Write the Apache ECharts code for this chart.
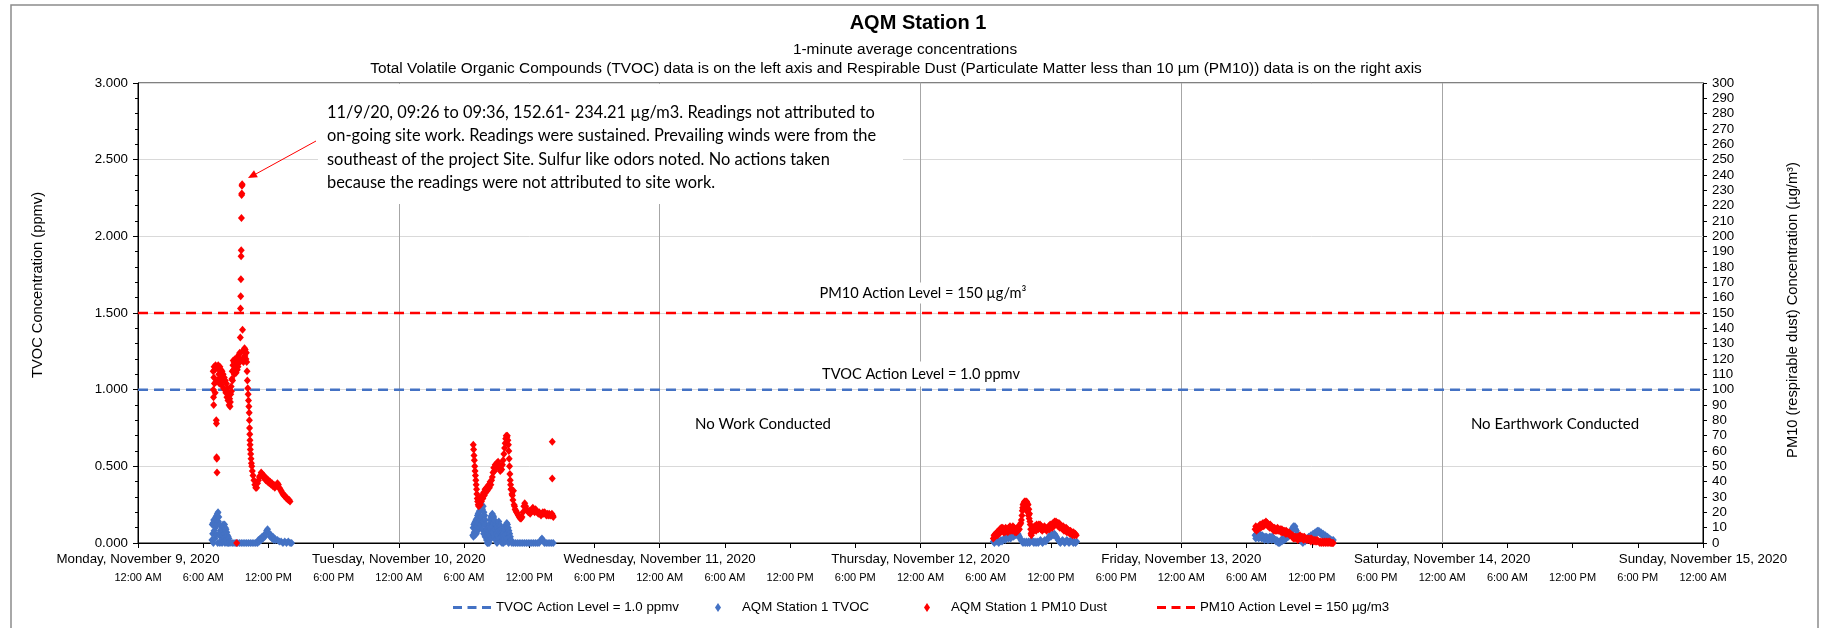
<!DOCTYPE html>
<html>
<head>
<meta charset="utf-8">
<script src="https://cdn.jsdelivr.net/npm/echarts@6.0.0/dist/echarts.min.js"></script>
<style>
  html, body { margin: 0; padding: 0; background: #fff; }
  #main { width: 1826px; height: 628px; }
</style>
</head>
<body>
<div id="main"></div>
<script>
// x axis tick labels
const dayLabels = ['Monday, November 9, 2020', 'Tuesday, November 10, 2020', 'Wednesday, November 11, 2020',
  'Thursday, November 12, 2020', 'Friday, November 13, 2020', 'Saturday, November 14, 2020', 'Sunday, November 15, 2020'];
const timeLabels = ['12:00 AM', '6:00 AM', '12:00 PM', '6:00 PM'];

const tvocActionLevel = 1.0;   // ppmv, left axis
const pm10ActionLevel = 150;   // ug/m3, right axis

// 1-minute readings, [time of day, value]. TVOC in ppmv, PM10 in ug/m3
const tvocNov9 = [
  ['06:48',0.02],['06:50',0.12],['06:52',0.06],['06:54',0.13],['06:56',0.00],['06:58',0.15],['07:00',0.08],['07:02',0.14],
  ['07:04',0.03],['07:06',0.16],['07:08',0.10],['07:10',0.17],['07:12',0.05],['07:14',0.18],['07:16',0.12],['07:18',0.19],
  ['07:20',0.00],['07:22',0.20],['07:24',0.14],['07:26',0.17],['07:28',0.06],['07:30',0.12],['07:32',0.00],['07:34',0.08],
  ['07:36',0.04],['07:38',0.07],['07:40',0.02],['07:42',0.09],['07:44',0.00],['07:46',0.11],['07:48',0.05],['07:50',0.12],
  ['07:52',0.01],['07:54',0.11],['07:56',0.06],['07:58',0.12],['08:00',0.00],['08:02',0.10],['08:04',0.04],['08:06',0.09],
  ['08:08',0.02],['08:10',0.07],['08:12',0.00],['08:14',0.05],['08:16',0.03],['08:18',0.04],['08:20',0.00],['08:22',0.03],
  ['08:25',0.01],['08:28',0.00],['08:40',0.00],['08:50',0.00],['09:00',0.00],['09:10',0.00],['09:20',0.00],['09:30',0.00],
  ['09:40',0.00],['09:50',0.00],['10:00',0.00],['10:10',0.00],['10:20',0.00],['10:30',0.00],['10:40',0.00],['10:50',0.00],
  ['11:00',0.00],['11:05',0.02],['11:10',0.01],['11:15',0.03],['11:20',0.02],['11:25',0.04],['11:30',0.03],['11:35',0.05],
  ['11:40',0.04],['11:45',0.06],['11:50',0.08],['11:55',0.09],['12:00',0.07],['12:05',0.06],['12:10',0.04],['12:15',0.05],
  ['12:20',0.03],['12:25',0.04],['12:30',0.02],['12:35',0.03],['12:40',0.02],['12:50',0.02],['13:00',0.01],['13:10',0.01],
  ['13:20',0.00],['13:30',0.01],['13:40',0.00],['13:50',0.01],['14:00',0.00],['14:08',0.00]
];
const pm10Nov9 = [
  ['06:55',112],['06:56',100],['06:57',95],['06:58',90],['06:59',108],['07:00',115],['07:02',104],['07:04',113],['07:06',98],
  ['07:08',116],['07:10',105],['07:12',80],['07:13',78],['07:14',56],['07:15',55],['07:16',46],['07:18',114],['07:20',106],
  ['07:23',116],['07:26',110],['07:29',104],['07:32',115],['07:35',108],['07:38',113],['07:41',103],['07:44',112],['07:47',106],
  ['07:50',110],['07:53',101],['07:56',108],['07:59',100],['08:02',106],['08:05',98],['08:08',104],['08:11',95],['08:14',101],
  ['08:17',93],['08:20',98],['08:23',90],['08:26',94],['08:28',89],['08:30',92],['08:32',97],['08:34',102],['08:36',99],
  ['08:38',107],['08:40',112],['08:42',106],['08:44',116],['08:46',119],['08:48',113],['08:50',118],['08:52',110],['08:54',116],
  ['08:56',120],['08:58',114],['09:00',118],['09:02',111],['09:04',116],['09:05',0],['09:06',120],['09:08',113],['09:10',121],
  ['09:12',115],['09:14',122],['09:16',117],['09:18',123],['09:20',118],['09:22',124],['09:24',119],['09:25',134],['09:26',153],
  ['09:27',161],['09:28',172],['09:29',187],['09:30',191],['09:31',212],['09:32',227],['09:33',228],['09:34',233],['09:35',234],
  ['09:37',139],['09:38',120],['09:40',125],['09:42',118],['09:44',126],['09:46',121],['09:48',127],['09:50',122],['09:52',126],
  ['09:54',124],['09:56',120],['09:58',124],['10:00',118],['10:02',112],['10:04',106],['10:06',101],['10:08',97],['10:10',93],
  ['10:12',89],['10:14',85],['10:15',80],['10:16',75],['10:17',71],['10:18',67],['10:19',64],['10:20',61],['10:22',58],
  ['10:24',55],['10:26',52],['10:28',50],['10:31',47],['10:35',44],['10:40',41],['10:45',38],['10:50',36],['10:55',36],
  ['11:00',39],['11:05',41],['11:10',43],['11:15',44],['11:20',46],['11:25',45],['11:30',43],['11:35',44],['11:40',42],
  ['11:45',41],['11:50',42],['11:55',40],['12:00',41],['12:05',39],['12:10',40],['12:15',38],['12:20',39],['12:25',37],
  ['12:30',38],['12:35',36],['12:40',37],['12:45',38],['12:50',39],['12:55',38],['13:00',36],['13:05',35],['13:10',34],
  ['13:15',33],['13:20',32],['13:25',31],['13:30',31],['13:35',30],['13:40',29],['13:45',29],['13:50',28],['13:55',28],['13:59',27]
];
const tvocNov10 = [
  ['06:48',0.05],['06:50',0.10],['06:52',0.04],['06:54',0.12],['06:56',0.07],['06:58',0.13],['07:00',0.05],['07:02',0.14],
  ['07:04',0.09],['07:06',0.15],['07:08',0.06],['07:10',0.16],['07:12',0.11],['07:14',0.18],['07:16',0.08],['07:18',0.19],
  ['07:20',0.13],['07:22',0.20],['07:24',0.10],['07:26',0.21],['07:28',0.15],['07:30',0.23],['07:32',0.12],['07:34',0.24],
  ['07:36',0.17],['07:38',0.25],['07:40',0.09],['07:42',0.22],['07:44',0.14],['07:46',0.24],['07:48',0.06],['07:50',0.20],
  ['07:52',0.12],['07:54',0.18],['07:56',0.04],['07:58',0.15],['08:00',0.08],['08:02',0.12],['08:04',0.02],['08:06',0.09],
  ['08:08',0.00],['08:10',0.05],['08:12',0.00],['08:14',0.03],['08:16',0.08],['08:18',0.00],['08:20',0.12],['08:22',0.05],
  ['08:24',0.15],['08:26',0.09],['08:28',0.17],['08:30',0.03],['08:32',0.18],['08:34',0.11],['08:36',0.19],['08:38',0.07],
  ['08:40',0.18],['08:42',0.13],['08:44',0.17],['08:46',0.04],['08:48',0.15],['08:50',0.09],['08:52',0.14],['08:54',0.02],
  ['08:56',0.12],['08:58',0.06],['09:00',0.10],['09:02',0.00],['09:04',0.11],['09:06',0.05],['09:08',0.13],['09:10',0.08],
  ['09:12',0.14],['09:14',0.03],['09:16',0.12],['09:18',0.07],['09:20',0.11],['09:22',0.01],['09:24',0.09],['09:26',0.04],
  ['09:28',0.07],['09:30',0.00],['09:32',0.05],['09:34',0.02],['09:36',0.06],['09:38',0.00],['09:40',0.07],['09:42',0.03],
  ['09:44',0.09],['09:46',0.05],['09:48',0.11],['09:50',0.01],['09:52',0.12],['09:54',0.06],['09:56',0.13],['09:58',0.03],
  ['10:00',0.12],['10:02',0.07],['10:04',0.10],['10:06',0.00],['10:08',0.08],['10:10',0.04],['10:12',0.06],['10:14',0.01],
  ['10:16',0.04],['10:18',0.02],['10:20',0.02],['10:24',0.00],['10:34',0.00],['10:44',0.00],['10:54',0.00],['11:04',0.00],
  ['11:14',0.00],['11:24',0.00],['11:34',0.00],['11:44',0.00],['11:54',0.00],['12:04',0.00],['12:14',0.00],['12:24',0.00],
  ['12:34',0.00],['12:44',0.00],['12:54',0.00],['13:05',0.02],['13:10',0.03],['13:15',0.02],['13:24',0.00],['13:34',0.00],
  ['13:44',0.00],['13:54',0.00],['14:04',0.00],['14:13',0.00]
];
const pm10Nov10 = [
  ['06:51',64],['06:53',61],['06:55',57],['06:57',54],['06:59',50],['07:01',47],['07:03',44],['07:05',41],['07:07',38],
  ['07:09',35],['07:11',32],['07:13',29],['07:15',27],['07:18',25],['07:21',24],['07:24',26],['07:27',28],['07:30',25],
  ['07:33',30],['07:36',27],['07:40',31],['07:44',29],['07:48',33],['07:52',31],['07:56',35],['08:00',33],['08:04',36],
  ['08:08',34],['08:12',37],['08:16',38],['08:20',36],['08:24',40],['08:28',38],['08:32',41],['08:36',43],['08:40',46],
  ['08:44',49],['08:48',47],['08:52',51],['08:56',49],['09:00',52],['09:04',50],['09:08',53],['09:12',51],['09:16',49],
  ['09:20',47],['09:24',50],['09:28',48],['09:32',51],['09:36',54],['09:40',58],['09:44',62],['09:47',65],['09:50',68],
  ['09:53',70],['09:56',69],['09:59',70],['10:02',67],['10:05',64],['10:07',60],['10:09',55],['10:11',50],['10:13',45],
  ['10:15',41],['10:17',38],['10:19',35],['10:21',35],['10:24',32],['10:27',31],['10:30',28],['10:33',34],['10:36',25],
  ['10:39',24],['10:42',22],['10:46',21],['10:50',20],['10:55',19],['11:00',18],['11:05',17],['11:10',16],['11:15',16],
  ['11:20',17],['11:25',20],['11:30',24],['11:35',26],['11:40',24],['11:45',22],['11:50',21],['11:55',20],['12:00',21],
  ['12:05',19],['12:10',20],['12:15',22],['12:20',23],['12:25',21],['12:30',20],['12:35',22],['12:40',21],['12:45',20],
  ['12:50',19],['12:55',20],['13:00',19],['13:05',18],['13:10',19],['13:15',20],['13:20',19],['13:25',20],['13:30',19],
  ['13:35',18],['13:40',19],['13:45',18],['13:50',19],['13:55',18],['14:00',18],['14:05',19],['14:07',66],['14:07',42],
  ['14:10',18],['14:13',17]
];
const tvocNov12 = [
  ['06:42',0.01],['06:48',0.00],['06:54',0.02],['07:00',0.01],['07:06',0.02],['07:12',0.00],['07:18',0.01],['07:24',0.02],
  ['07:30',0.01],['07:36',0.02],['07:42',0.03],['07:48',0.02],['07:54',0.03],['08:00',0.04],['08:06',0.03],['08:12',0.04],
  ['08:18',0.03],['08:24',0.04],['08:30',0.05],['08:34',0.04],['08:38',0.05],['08:42',0.06],['08:46',0.05],['08:50',0.06],
  ['08:54',0.05],['08:58',0.06],['09:02',0.05],['09:06',0.04],['09:10',0.03],['09:15',0.02],['09:20',0.01],['09:26',0.00],
  ['09:32',0.01],['09:38',0.00],['09:44',0.01],['09:50',0.00],['09:56',0.01],['10:02',0.00],['10:08',0.01],['10:14',0.02],
  ['10:20',0.01],['10:26',0.00],['10:32',0.01],['10:38',0.00],['10:44',0.01],['10:50',0.00],['10:56',0.01],['11:02',0.02],
  ['11:08',0.01],['11:14',0.00],['11:20',0.01],['11:26',0.02],['11:32',0.01],['11:38',0.02],['11:44',0.03],['11:50',0.04],
  ['11:55',0.05],['12:00',0.04],['12:05',0.05],['12:10',0.06],['12:15',0.05],['12:20',0.06],['12:25',0.05],['12:30',0.04],
  ['12:35',0.03],['12:40',0.02],['12:46',0.01],['12:52',0.00],['12:58',0.01],['13:04',0.02],['13:10',0.01],['13:16',0.00],
  ['13:22',0.01],['13:28',0.02],['13:34',0.01],['13:40',0.00],['13:46',0.01],['13:52',0.02],['13:58',0.01],['14:04',0.00],
  ['14:10',0.01],['14:16',0.00],['14:22',0.01]
];
const pm10Nov12 = [
  ['06:42',3],['06:46',5],['06:50',4],['06:54',6],['06:58',5],['07:02',7],['07:06',5],['07:10',8],['07:14',6],['07:18',9],
  ['07:22',7],['07:26',10],['07:30',8],['07:34',10],['07:38',7],['07:42',9],['07:46',7],['07:50',10],['07:54',8],['07:58',9],
  ['08:02',7],['08:06',10],['08:10',8],['08:14',11],['08:18',8],['08:22',10],['08:26',8],['08:30',11],['08:34',9],['08:38',10],
  ['08:42',7],['08:46',9],['08:50',7],['08:54',10],['08:58',8],['09:02',11],['09:06',9],['09:10',12],['09:14',13],['09:17',15],
  ['09:20',18],['09:22',21],['09:24',23],['09:26',25],['09:28',22],['09:30',26],['09:32',24],['09:34',27],['09:36',25],
  ['09:38',27],['09:40',23],['09:42',26],['09:44',24],['09:46',27],['09:48',22],['09:50',26],['09:52',20],['09:54',25],
  ['09:56',18],['09:58',22],['10:00',16],['10:02',19],['10:04',14],['10:06',12],['10:08',9],['10:10',6],['10:12',5],
  ['10:14',7],['10:17',9],['10:20',8],['10:23',10],['10:26',8],['10:29',11],['10:32',9],['10:35',11],['10:38',8],['10:41',12],
  ['10:44',10],['10:47',11],['10:50',9],['10:53',12],['10:56',10],['11:00',12],['11:04',9],['11:08',11],['11:12',8],
  ['11:16',10],['11:20',9],['11:24',11],['11:28',9],['11:32',10],['11:36',8],['11:40',10],['11:44',9],['11:48',11],['11:52',9],
  ['11:56',12],['12:00',10],['12:04',12],['12:08',10],['12:12',13],['12:16',11],['12:20',14],['12:24',12],['12:28',14],
  ['12:32',12],['12:36',13],['12:40',11],['12:44',13],['12:48',10],['12:52',12],['12:56',10],['13:00',11],['13:04',9],
  ['13:08',11],['13:12',8],['13:16',10],['13:20',8],['13:24',10],['13:28',7],['13:32',9],['13:36',7],['13:40',8],['13:44',6],
  ['13:48',8],['13:52',6],['13:56',7],['14:00',5],['14:05',7],['14:10',5],['14:15',6],['14:20',5]
];
const tvocNov13 = [
  ['06:47',0.05],['06:51',0.03],['06:55',0.06],['06:59',0.04],['07:03',0.05],['07:07',0.03],['07:11',0.06],['07:15',0.04],
  ['07:19',0.05],['07:23',0.03],['07:27',0.05],['07:31',0.04],['07:35',0.04],['07:39',0.02],['07:43',0.04],['07:47',0.03],
  ['07:51',0.04],['07:55',0.02],['07:59',0.03],['08:03',0.02],['08:07',0.04],['08:11',0.03],['08:15',0.04],['08:19',0.02],
  ['08:23',0.04],['08:27',0.03],['08:31',0.03],['08:35',0.02],['08:39',0.02],['08:43',0.01],['08:47',0.02],['08:51',0.01],
  ['08:55',0.00],['08:59',0.01],['09:03',0.00],['09:07',0.01],['09:11',0.02],['09:15',0.01],['09:19',0.03],['09:23',0.02],
  ['09:27',0.03],['09:31',0.02],['09:35',0.04],['09:39',0.03],['09:43',0.04],['09:47',0.05],['09:51',0.04],['09:55',0.06],
  ['09:59',0.05],['10:03',0.07],['10:07',0.08],['10:11',0.09],['10:15',0.10],['10:19',0.11],['10:23',0.10],['10:27',0.11],
  ['10:31',0.09],['10:35',0.08],['10:39',0.06],['10:43',0.05],['10:47',0.03],['10:51',0.04],['10:55',0.02],['10:59',0.03],
  ['11:03',0.01],['11:07',0.02],['11:11',0.00],['11:15',0.01],['11:19',0.02],['11:23',0.01],['11:27',0.02],['11:31',0.03],
  ['11:35',0.02],['11:39',0.03],['11:43',0.04],['11:47',0.03],['11:51',0.04],['11:55',0.05],['11:59',0.04],['12:03',0.05],
  ['12:07',0.06],['12:11',0.05],['12:15',0.06],['12:19',0.07],['12:23',0.06],['12:27',0.07],['12:31',0.08],['12:35',0.07],
  ['12:39',0.08],['12:43',0.07],['12:47',0.06],['12:51',0.07],['12:55',0.06],['12:59',0.05],['13:03',0.06],['13:07',0.05],
  ['13:11',0.04],['13:15',0.05],['13:19',0.04],['13:23',0.03],['13:27',0.04],['13:31',0.03],['13:35',0.02],['13:39',0.03],
  ['13:43',0.02],['13:47',0.01],['13:51',0.02],['13:55',0.01],['13:59',0.02]
];
const pm10Nov13 = [
  ['06:47',9],['06:51',11],['06:55',8],['06:59',10],['07:03',9],['07:07',11],['07:11',10],['07:15',12],['07:19',10],['07:23',12],
  ['07:27',11],['07:31',13],['07:35',11],['07:39',13],['07:43',12],['07:47',14],['07:51',12],['07:55',13],['07:59',11],['08:03',12],
  ['08:07',10],['08:11',12],['08:15',10],['08:19',11],['08:23',9],['08:27',10],['08:31',8],['08:35',10],['08:39',8],['08:43',9],
  ['08:47',8],['08:51',10],['08:55',8],['08:59',9],['09:03',8],['09:07',9],['09:11',7],['09:15',9],['09:19',7],['09:23',8],
  ['09:27',7],['09:31',8],['09:35',6],['09:39',8],['09:43',6],['09:47',7],['09:51',6],['09:55',7],['09:59',5],['10:03',6],
  ['10:07',5],['10:11',4],['10:15',5],['10:19',3],['10:23',4],['10:27',3],['10:31',4],['10:35',3],['10:39',4],['10:43',2],
  ['10:47',4],['10:51',3],['10:55',5],['10:59',3],['11:03',4],['11:07',3],['11:11',4],['11:15',2],['11:19',4],['11:23',3],
  ['11:27',3],['11:31',2],['11:35',3],['11:39',2],['11:43',3],['11:47',2],['11:51',3],['11:55',1],['11:59',3],['12:03',2],
  ['12:07',2],['12:11',1],['12:15',2],['12:19',1],['12:23',2],['12:27',1],['12:31',2],['12:35',1],['12:40',1],['12:45',0],
  ['12:50',1],['12:55',0],['13:00',1],['13:05',0],['13:10',1],['13:15',0],['13:20',1],['13:25',0],['13:30',1],['13:35',0],
  ['13:40',1],['13:45',0],['13:50',0],['13:55',0],['13:59',0]
];

const HOUR = 3600 * 1000;
const T0 = Date.UTC(2020, 10, 9);
const T1 = Date.UTC(2020, 10, 15);

function toPoints(day, rows) {
  return rows.map(function (r) {
    return [Date.UTC(2020, 10, day, +r[0].slice(0, 2), +r[0].slice(3, 5)), r[1]];
  });
}

const tvocData = [].concat(toPoints(9, tvocNov9), toPoints(10, tvocNov10), toPoints(12, tvocNov12), toPoints(13, tvocNov13));
const pm10Data = [].concat(toPoints(9, pm10Nov9), toPoints(10, pm10Nov10), toPoints(12, pm10Nov12), toPoints(13, pm10Nov13));

const ARIAL = '"Liberation Sans", Arial, sans-serif';
const CALIBRI = 'Lato, Carlito, sans-serif';
const BLUE = '#4472C4';
const RED = '#FF0000';

// legend icons: three short dashes, and an upright diamond
const DASH_ICON = 'path://M0,0h9v3h-9z M14.5,0h9v3h-9z M29,0h9v3h-9z';
const DIAMOND_ICON = 'path://M3,0L6,4.5L3,9L0,4.5Z';

const noteText = [
  '11/9/20, 09:26 to 09:36, 152.61- 234.21 µg/m3. Readings not attributed to',
  'on-going site work. Readings were sustained. Prevailing winds were from the',
  'southeast of the project Site. Sulfur like odors noted. No actions taken',
  'because the readings were not attributed to site work.'
].join('\n');

var chart = echarts.init(document.getElementById('main'));

var legendText = { fontFamily: ARIAL, fontSize: 13.3, color: '#000' };
function legendAt(name, icon, left) {
  return {
    data: [{ name: name, icon: icon }], left: left, top: 596,
    itemWidth: 38, itemHeight: 9, symbolKeepAspect: true, textStyle: legendText
  };
}
var subStyle = { fontFamily: ARIAL, fontSize: 15.4, fontWeight: 'normal', color: '#000' };

var option = {
  animation: false,
  backgroundColor: '#fff',
  title: [
    {
      text: 'AQM Station 1',
      left: 913, textAlign: 'center', top: 8,
      textStyle: { fontFamily: ARIAL, fontSize: 20, fontWeight: 'bold', color: '#000' }
    },
    { text: '1-minute average concentrations', left: 900, textAlign: 'center', top: 37.5, textStyle: subStyle },
    {
      text: 'Total Volatile Organic Compounds (TVOC) data is on the left axis and Respirable Dust (Particulate Matter less than 10 µm (PM10)) data is on the right axis',
      left: 891, textAlign: 'center', top: 56, textStyle: subStyle
    }
  ],
  legend: [
    legendAt('TVOC Action Level = 1.0 ppmv', DASH_ICON, 448),
    legendAt('AQM Station 1 TVOC', DIAMOND_ICON, 710),
    legendAt('AQM Station 1 PM10 Dust', DIAMOND_ICON, 919),
    legendAt('PM10 Action Level = 150 µg/m3', DASH_ICON, 1152)
  ],
  grid: {
    left: 138, top: 83, width: 1565, height: 460,
    show: true, borderColor: '#000', borderWidth: 1, backgroundColor: 'transparent'
  },
  xAxis: [
    {
      type: 'value', min: T0, max: T1, interval: 6 * HOUR,
      axisLine: { lineStyle: { color: '#000', width: 1 } },
      axisTick: { show: true, length: 5, lineStyle: { color: '#000' } },
      splitLine: { show: false },
      axisLabel: {
        margin: 29, fontFamily: ARIAL, fontSize: 11, color: '#000',
        showMinLabel: true, showMaxLabel: true,
        formatter: function (v) { return timeLabels[Math.round(((v - T0) / HOUR) % 24) / 6]; }
      }
    },
    {
      type: 'value', position: 'bottom', min: T0, max: T1, interval: 24 * HOUR,
      axisLine: { show: false },
      axisTick: { show: false },
      splitLine: { show: true, lineStyle: { color: '#a6a6a6', width: 1 } },
      axisLabel: {
        margin: 10, fontFamily: ARIAL, fontSize: 13.3, color: '#000',
        showMinLabel: true, showMaxLabel: true,
        formatter: function (v) { return dayLabels[Math.round((v - T0) / (24 * HOUR))]; }
      }
    }
  ],
  yAxis: [
    {
      type: 'value', position: 'left', min: 0, max: 3, interval: 0.5,
      axisLine: { show: true, lineStyle: { color: '#000' } },
      axisTick: { show: true, length: 5, lineStyle: { color: '#000' } },
      minorTick: { show: true, splitNumber: 5, length: 3, lineStyle: { color: '#000' } },
      splitLine: { show: true, lineStyle: { color: '#d9d9d9', width: 1 } },
      axisLabel: {
        margin: 10, fontFamily: ARIAL, fontSize: 13.3, color: '#000',
        formatter: function (v) { return v.toFixed(3); }
      }
    },
    {
      type: 'value', position: 'right', min: 0, max: 300, interval: 10,
      axisLine: { show: true, lineStyle: { color: '#000' } },
      axisTick: { show: true, length: 4, lineStyle: { color: '#000' } },
      splitLine: { show: false },
      axisLabel: { margin: 9, fontFamily: ARIAL, fontSize: 13.3, color: '#000' }
    }
  ],
  series: [
    {
      name: 'TVOC Action Level = 1.0 ppmv', type: 'line', xAxisIndex: 0, yAxisIndex: 0,
      symbol: 'none', silent: true, z: 3,
      lineStyle: { color: BLUE, width: 2.5, type: [10, 6] }, itemStyle: { color: BLUE },
      data: [[T0, tvocActionLevel], [T1, tvocActionLevel]]
    },
    {
      name: 'AQM Station 1 TVOC', type: 'scatter', xAxisIndex: 0, yAxisIndex: 0,
      symbol: 'diamond', symbolSize: [7, 8], z: 4,
      itemStyle: { color: BLUE, opacity: 1 },
      data: tvocData
    },
    {
      name: 'AQM Station 1 PM10 Dust', type: 'scatter', xAxisIndex: 0, yAxisIndex: 1,
      symbol: 'diamond', symbolSize: [7, 8], z: 5,
      itemStyle: { color: RED, opacity: 1 },
      data: pm10Data
    },
    {
      name: 'PM10 Action Level = 150 µg/m3', type: 'line', xAxisIndex: 0, yAxisIndex: 1,
      symbol: 'none', silent: true, z: 3,
      lineStyle: { color: RED, width: 2.5, type: [10, 6] }, itemStyle: { color: RED },
      data: [[T0, pm10ActionLevel], [T1, pm10ActionLevel]]
    }
  ],
  graphic: [
    // outer chart border
    { type: 'rect', z: 0, shape: { x: 11, y: 5, width: 1807, height: 700 },
      style: { fill: 'none', stroke: '#8c8c8c', lineWidth: 1.5 } },
    // annotation box
    { type: 'rect', z: 6, shape: { x: 318, y: 84, width: 585, height: 120 }, style: { fill: '#fff' } },
    { type: 'text', z: 7, x: 327, y: 101,
      style: { text: noteText, font: '16.4px ' + CALIBRI, fill: '#000', lineHeight: 23.3 } },
    { type: 'line', z: 7, shape: { x1: 316, y1: 141, x2: 254, y2: 175 }, style: { stroke: RED, lineWidth: 1 } },
    { type: 'polygon', z: 7, shape: { points: [[248, 178], [257.8, 177.2], [254, 170.2]] }, style: { fill: RED } },
    // labels inside the plot
    { type: 'text', z: 7, x: 923, y: 293,
      style: { text: 'PM10 Action Level = 150 µg/m³', font: '14.6px ' + CALIBRI, fill: '#000',
        align: 'center', verticalAlign: 'middle', textAlign: 'center', textVerticalAlign: 'middle',
        backgroundColor: '#fff', padding: [3, 4] } },
    { type: 'text', z: 7, x: 921, y: 374,
      style: { text: 'TVOC Action Level = 1.0 ppmv', font: '14.6px ' + CALIBRI, fill: '#000',
        align: 'center', verticalAlign: 'middle', textAlign: 'center', textVerticalAlign: 'middle',
        backgroundColor: '#fff', padding: [5, 4] } },
    { type: 'text', z: 7, x: 763, y: 424,
      style: { text: 'No Work Conducted', font: '15px ' + CALIBRI, fill: '#000',
        align: 'center', verticalAlign: 'middle', textAlign: 'center', textVerticalAlign: 'middle' } },
    { type: 'text', z: 7, x: 1555, y: 424,
      style: { text: 'No Earthwork Conducted', font: '15px ' + CALIBRI, fill: '#000',
        align: 'center', verticalAlign: 'middle', textAlign: 'center', textVerticalAlign: 'middle' } },
    // axis titles
    { type: 'text', z: 7, x: 38, y: 285, rotation: Math.PI / 2,
      style: { text: 'TVOC Concentration (ppmv)', font: '14.7px ' + ARIAL, fill: '#000',
        align: 'center', verticalAlign: 'middle', textAlign: 'center', textVerticalAlign: 'middle' } },
    { type: 'text', z: 7, x: 1793, y: 310, rotation: Math.PI / 2,
      style: { text: 'PM10 (respirable dust) Concentration (µg/m³)', font: '14.7px ' + ARIAL, fill: '#000',
        align: 'center', verticalAlign: 'middle', textAlign: 'center', textVerticalAlign: 'middle' } }
  ]
};

chart.setOption(option);
window.addEventListener('resize', function () { chart.resize(); });
</script>
</body>
</html>
